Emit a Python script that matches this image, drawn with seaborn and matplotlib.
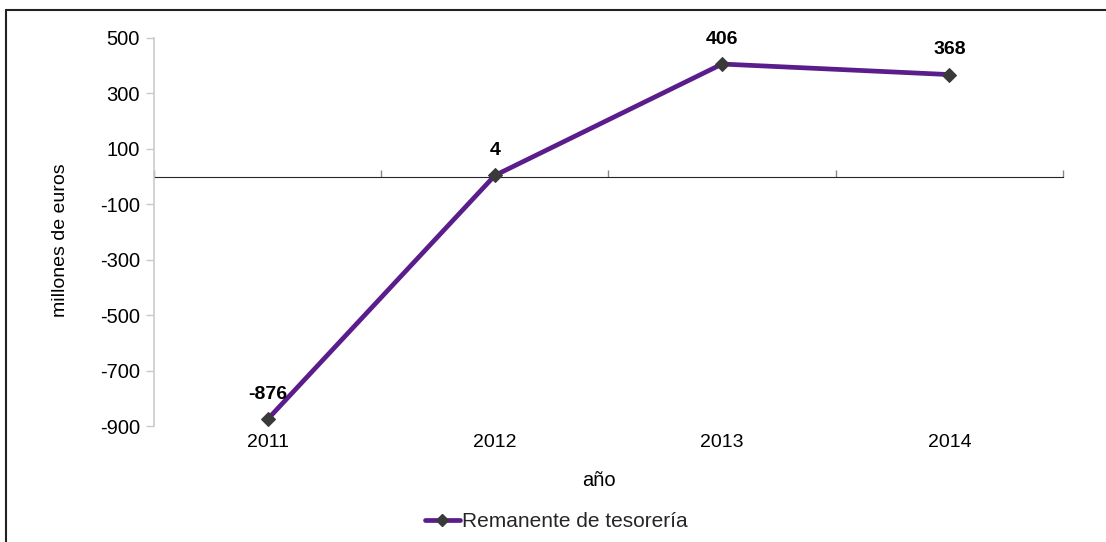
import matplotlib
matplotlib.use("Agg")
import matplotlib.pyplot as plt
import seaborn as sns
import pandas as pd
from matplotlib.lines import Line2D

years = ["2011", "2012", "2013", "2014"]
values = [-876, 4, 406, 368]
yticks = [-900, -700, -500, -300, -100, 100, 300, 500]
series_name = "Remanente de tesorería"

sns.set_style("white")
plt.rcParams["font.family"] = ["Liberation Sans", "DejaVu Sans"]

df = pd.DataFrame({"año": years, "valor": values})

fig = plt.figure(figsize=(11.06, 5.42), dpi=100)
ax = fig.add_axes([0.1392, 0.214, 0.8219, 0.7159])

line_color = "#5B1C8C"
sns.lineplot(data=df, x="año", y="valor", ax=ax, color=line_color, lw=3.4,
             marker="D", markersize=7, markerfacecolor="#3a3a3a",
             markeredgecolor="#3a3a3a", label=series_name, legend=False)

ymin, ymax = -900, 500
ax.set_ylim(ymin, ymax)
ax.set_xlim(-0.5, len(years) - 0.5)
ax.set_yticks(yticks)
ax.set_yticklabels([str(v) for v in yticks], fontsize=14.5, color="black")
ax.tick_params(axis="y", length=6, width=1, color="#c8c8c8", pad=4, left=True)
ax.tick_params(axis="x", length=0, pad=6, labelsize=14, labelcolor="black")

for s in ["top", "right", "bottom"]:
    ax.spines[s].set_visible(False)
ax.spines["left"].set_color("#cccccc")
ax.spines["left"].set_linewidth(1.2)

# zero axis with category boundary ticks
zero_frac = (0 - ymin) / (ymax - ymin)
sec = ax.secondary_xaxis(zero_frac)
sec.set_xticks([i - 0.5 for i in range(len(years) + 1)])
sec.set_xticklabels([])
sec.tick_params(axis="x", length=5, width=1, color="#888888", direction="out")
sec.spines["bottom"].set_color("#888888")
sec.spines["bottom"].set_linewidth(1.2)

# data labels
for i, v in enumerate(values):
    ax.annotate(str(v), (i, v), xytext=(0, 18), textcoords="offset points",
                ha="center", va="center", fontsize=14, fontweight="bold",
                color="black")

ax.set_xlabel("año", fontsize=14.5, color="black")
ax.xaxis.set_label_coords(0.49, -0.115)
ax.set_ylabel("millones de euros", fontsize=14, color="black")
ax.yaxis.set_label_coords(-0.094, 0.479)

handle = Line2D([0], [0], color=line_color, lw=3.4, marker="D", markersize=6,
                markerfacecolor="#3a3a3a", markeredgecolor="#3a3a3a")
fig.legend([handle], [series_name], loc="center", bbox_to_anchor=(0.503, 0.037),
           frameon=False, fontsize=15, handlelength=1.7, handletextpad=0.1)

# outer border (top and left)
fig.add_artist(Line2D([0.0054, 1.0], [0.9815, 0.9815], transform=fig.transFigure,
                      color="#222222", lw=1.5))
fig.add_artist(Line2D([0.0054, 0.0054], [0.0, 0.9815], transform=fig.transFigure,
                      color="#222222", lw=1.5))

fig.savefig("out.png", dpi=100)
